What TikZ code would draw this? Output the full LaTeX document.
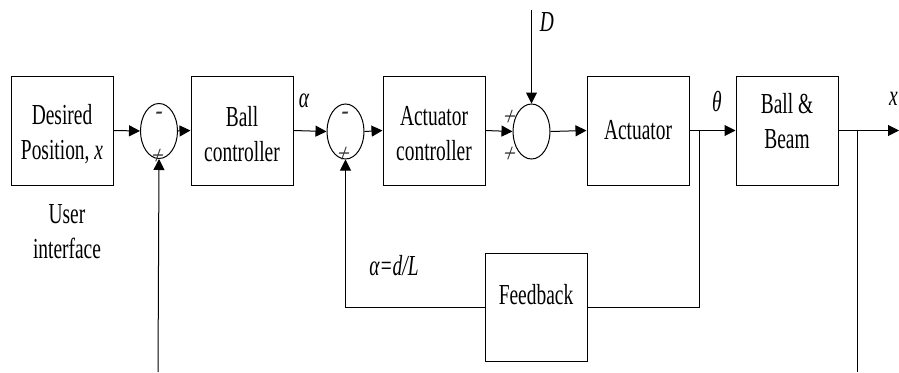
\documentclass[tikz,border=0pt]{standalone}
\usepackage{fontspec}
\setmainfont{Liberation Serif}[FakeStretch=0.67]
\newfontfamily\signfont{Liberation Serif}[FakeStretch=0.8, FakeSlant=0.35]
\usetikzlibrary{shapes.geometric,arrows.meta}

\tikzset{
  blk/.style={draw, line width=1pt, minimum width=102pt, minimum height=109pt, inner sep=0pt},
  sumnode/.style={draw, line width=1pt, ellipse, minimum width=37pt, minimum height=55pt, inner sep=0pt},
  txt/.style={align=center, inner sep=0pt, font=\fontsize{29}{35}\selectfont},
  sgn/.style={inner sep=0pt, text=black!80, font=\signfont\fontsize{27}{27}\selectfont},
  lbl/.style={inner sep=0pt, font=\fontsize{29}{35}\selectfont\itshape},
  wire/.style={line width=1pt},
  sig/.style={line width=1pt, -{Triangle[length=11pt,width=11pt]}},
}

\begin{document}
\begin{tikzpicture}[x=1pt, y=-1pt]
\useasboundingbox (0,0) rectangle (899,372);

% blocks of the forward path
\node[blk] (des)  at (62,130.5)  {};
\node[blk] (bctl) at (242,130.5) {};
\node[blk] (actl) at (434,130.5) {};
\node[blk] (act)  at (638,130.5) {};
\node[blk] (bb)   at (787,130.5) {};
\node[blk, minimum height=108pt] (fb) at (536,307) {};

\node[txt] (destxt)  at (62,134)  {Desired\\Position, \textit{x}};
\node[txt] (bctltxt) at (242,134) {Ball\\controller};
\node[txt] (actltxt) at (434,134) {Actuator\\controller};
\node[txt] (acttxt)  at (638,130) {Actuator};
\node[txt] (bbtxt)   at (787,121) {Ball \&\\Beam};
\node[txt] (fbtxt)   at (536,295) {Feedback};
\node[txt] (ui)      at (67,232)  {User\\interface};

% summing junctions
\node[sumnode] (s1) at (159,131) {};
\node[sumnode] (s2) at (345.5,131.5) {};
\node[sumnode] (s3) at (531.5,131.5) {};

\node[sgn] (s1m) at (157,116) {-};
\node[sgn] (s1p) at (155,157) {+};
\node[sgn] (s2m) at (343,116) {-};
\node[sgn] (s2p) at (341,155) {+};
\node[sgn] (s3a) at (507,118) {+};
\node[sgn] (s3b) at (507,155) {+};

% signal labels
\node[lbl] (alpha) at (304,101) {α};
\node[lbl] (theta) at (717,102) {θ};
\node[lbl] (dist)  at (547,22)  {D};
\node[lbl] (ratio) at (394,266) {α=d/L};
\node[lbl, anchor=east] (xout) at (898,99) {x};

% free ends and branch points
\coordinate (dtop) at (531.5,10);
\coordinate (out) at (899,130.5);
\coordinate (thb) at (699,130.5);
\coordinate (xb) at (857,130.5);
\coordinate (xbot) at (857,372);
\coordinate (ubot) at (158,372);
\coordinate (fbr) at (699,307);
\coordinate (fbl) at (345.5,307);

% forward path
\draw[sig] (des.east) -- (s1.west);
\draw[sig] (s1.east) -- (bctl.west);
\draw[sig] (bctl.east) -- (s2.west);
\draw[sig] (s2.east) -- (actl.west);
\draw[sig] (actl.east) -- (s3.west);
\draw[sig] (s3.east) -- (act.west);
\draw[sig] (act.east) -- (bb.west);
\draw[sig] (bb.east) -- (out);
\draw[sig] (dtop) -- (s3.north);

% feedback paths
\draw[wire] (thb) -- (fbr) -- (fb.east);
\draw[sig] (fb.west) -- (fbl) -- (s2.south);
\draw[sig] (ubot) -- (s1.south);
\draw[wire] (xb) -- (xbot);
\end{tikzpicture}
\end{document}
